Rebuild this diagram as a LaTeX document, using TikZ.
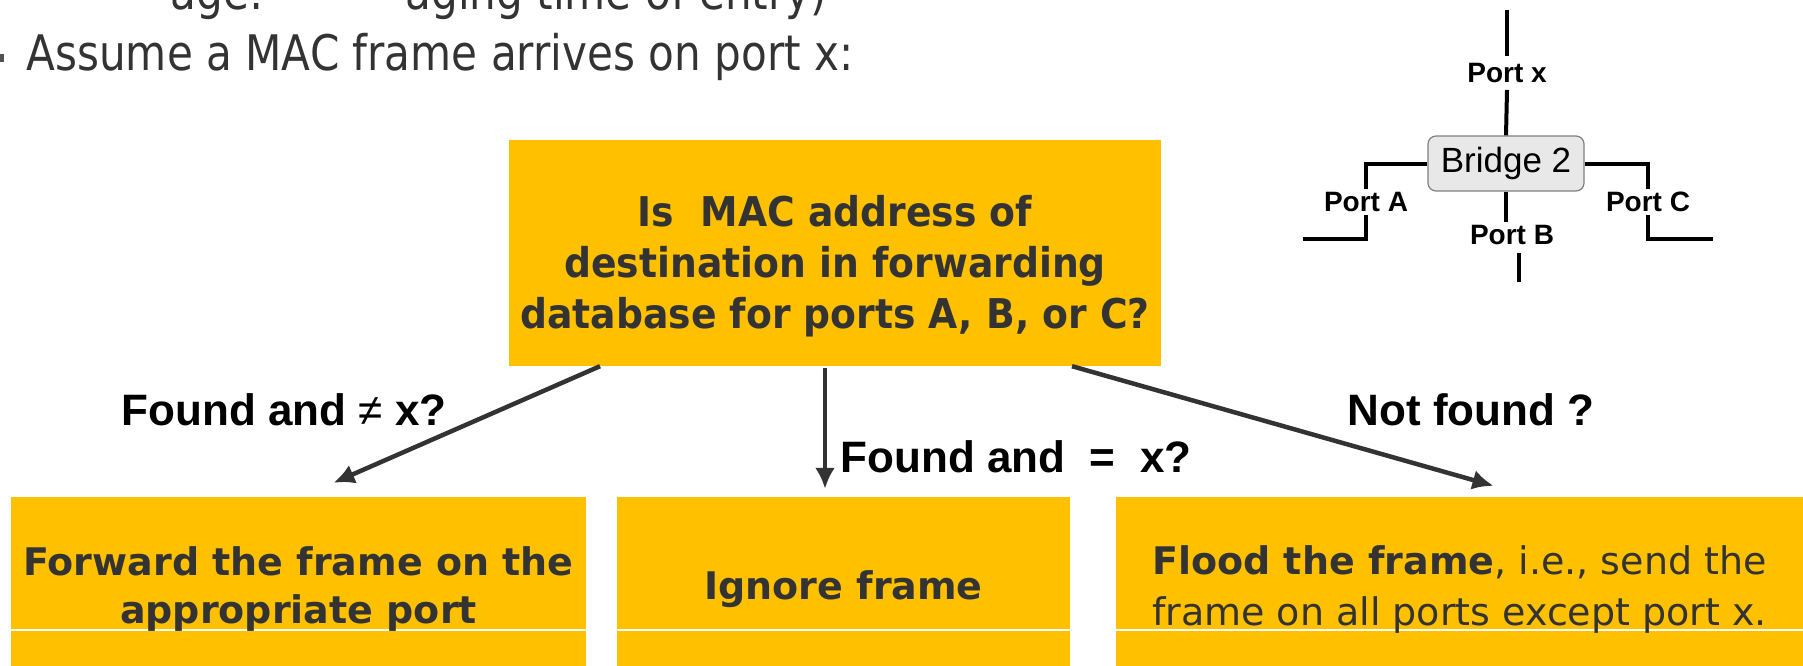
\documentclass[tikz,border=0pt]{standalone}
\usepackage{fontspec}
\setmainfont{DejaVu Sans}
\newfontfamily\slidefont[FakeStretch=0.86]{DejaVu Sans}
\newfontfamily\boxfont[FakeStretch=0.92]{DejaVu Sans}
\newfontfamily\ansfont{DejaVu Sans}
\newfontfamily\arialfont{Liberation Sans}
\usetikzlibrary{arrows.meta}
\definecolor{gold}{HTML}{FFC000}
\definecolor{ink}{HTML}{333333}
\begin{document}
\begin{tikzpicture}[x=1pt, y=-1pt, >={Latex[length=21pt,width=20pt]},
    ansbox/.style={fill=gold, text=ink, inner sep=0pt, align=center,
        font=\ansfont\fontsize{38}{48}\selectfont,
        path picture={\fill[white] ([yshift=51pt]path picture bounding box.south west)
            rectangle ([yshift=53pt]path picture bounding box.south east);}},
    slide/.style={anchor=base west, text=ink, font=\slidefont\fontsize{49}{58}\selectfont},
    flow/.style={->, draw=ink, line width=4.5pt},
    cond/.style={font=\arialfont\bfseries\fontsize{44}{50}\selectfont, text=black},
    port/.style={font=\arialfont\bfseries\fontsize{28}{32}\selectfont, inner sep=3pt},
    wire/.style={line width=4pt, black}]
    \useasboundingbox (0,0) rectangle (1803,666);
    \clip (0,0) rectangle (1803,666);

    % 1. Slide text
    \node[slide] (cut1) at (167,10) {age:};
    \node[slide] (cut2) at (402,10) {aging time of entry)};
    \fill[ink!85] (-4,54) rectangle (4,62);
    \node[slide] (assume) at (23,71) {Assume a MAC frame arrives on port x:};

    % 2. Question and answers
    \node[fill=gold, minimum width=652pt, minimum height=226pt] (query) at (835,253) {};
    \node[text=ink, align=center, font=\boxfont\bfseries\fontsize{41}{51}\selectfont]
        (querytext) at ([yshift=-13pt]query.center)
        {Is\ \ MAC address of\\destination in forwarding\\database for ports A, B, or C?};
    \node[ansbox, minimum width=575pt, minimum height=185pt] (fwd) at (298.5,589.5)
        {\bfseries Forward the frame on the\\\bfseries appropriate port};
    \node[ansbox, minimum width=453pt, minimum height=185pt] (ignore) at (843.5,589.5)
        {\bfseries Ignore frame};
    \node[ansbox, minimum width=687pt, minimum height=185pt, font=\ansfont\fontsize{38}{51}\selectfont] (flood) at (1459.5,589.5)
        {\textbf{Flood the frame}, i.e., send the\\frame on all ports except port x.};

    % 3. Arrows and conditions
    \draw[flow] ([xshift=-235pt]query.south) -- ([xshift=35pt,yshift=14pt]fwd.north);
    \draw[flow] ([xshift=-10pt,yshift=-2pt]query.south) -- ([xshift=-18.5pt,yshift=8pt]ignore.north);
    \draw[flow] ([xshift=237pt]query.south) -- ([xshift=34pt,yshift=11pt]flood.north);
    \node[cond] (found) at (284,410) {Found and {\mdseries ≠} x?};
    \node[cond] (same) at (1016,457) {Found and\ \ =\ \ x?};
    \node[cond] (miss) at (1471,410) {Not found ?};

    % 4. Bridge 2 with its ports
    \node[draw=gray, line width=1.2pt, fill=gray!18, rounded corners=8pt,
        minimum width=156pt, minimum height=55pt, inner sep=0pt,
        font=\arialfont\fontsize{35}{40}\selectfont] (bridge) at (1506,163.5) {Bridge 2};
    \node[port] (portx) at (1507,73) {Port x};
    \node[port] (porta) at (1366,202) {Port A};
    \node[port] (portc) at (1648,202) {Port C};
    \node[port] (portb) at (1512,235) {Port B};
    \draw[wire] ([yshift=4pt]portx.north) -- ++(0,-46);
    \draw[wire] ([yshift=-4pt]portx.south) -- (bridge.north);
    \draw[wire] (bridge.west) -| (porta.north);
    \draw[wire] (porta.south) -- ++(0,24) -- ++(-63,0);
    \draw[wire] (bridge.east) -| (portc.north);
    \draw[wire] (portc.south) -- ++(0,24) -- ++(65,0);
    \draw[wire] (bridge.south) -- (bridge.south |- portb.north);
    \draw[wire] ([xshift=7pt,yshift=-5pt]portb.south) -- ++(0,29);
\end{tikzpicture}
\end{document}
